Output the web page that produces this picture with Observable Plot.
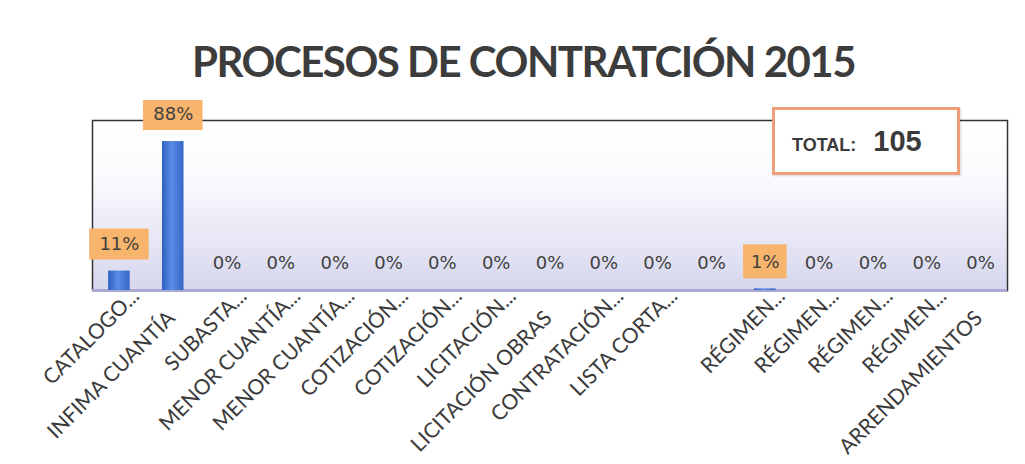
<!DOCTYPE html>
<html><head><meta charset="utf-8">
<script src="https://cdn.jsdelivr.net/npm/d3@7"></script>
<script src="https://cdn.jsdelivr.net/npm/@observablehq/plot@0.6"></script>
<style>
body{margin:0;background:#fff;}
#fig{position:relative;width:1025px;height:464px;overflow:hidden;background:#fff;}
#title{position:absolute;left:11px;top:36px;width:1025px;text-align:center;font-family:Lato,sans-serif;font-weight:bold;font-size:42px;letter-spacing:-1.5px;line-height:50px;color:#3c3c3c;white-space:nowrap;}
#chart{position:absolute;left:0;top:100px;}
#total{position:absolute;left:772px;top:107px;width:188px;height:68px;box-sizing:border-box;border:3px solid #ee9e78;background:#fff;padding-left:17px;line-height:62px;font-family:"Liberation Sans",Arial,sans-serif;font-weight:bold;color:#3a3a3a;white-space:nowrap;box-shadow:1px 1px 2px rgba(0,0,0,0.15);}
#total .t1{font-size:18px;}
#total .t2{font-size:29px;margin-left:17px;}
</style></head><body>
<div id="fig">
  <div id="chart"></div>
  <div id="title">PROCESOS DE CONTRATCIÓN 2015</div>
  <div id="total"><span class="t1">TOTAL:</span><span class="t2">105</span></div>
</div>
<script>
const categories = ["CATALOGO...", "INFIMA CUANTÍA", "SUBASTA...", "MENOR CUANTÍA...", "MENOR CUANTÍA...",
  "COTIZACIÓN...", "COTIZACIÓN...", "LICITACIÓN...", "LICITACIÓN OBRAS", "CONTRATACIÓN...",
  "LISTA CORTA...", "", "RÉGIMEN...", "RÉGIMEN...", "RÉGIMEN...", "RÉGIMEN...", "ARRENDAMIENTOS"];
const counts = [12, 92, 0, 0, 0, 0, 0, 0, 0, 0, 0, 0, 1, 0, 0, 0, 0];
const total = 105;

const data = categories.map((label, i) => ({
  key: i, label, pct: counts[i] / total * 100,
  truncated: label.endsWith("...")
}));
const fmt = d => Math.round(d.pct) + "%";

const defs = () => {
  const g = d3.create("svg:defs");
  const bg = g.append("linearGradient").attr("id", "bg").attr("x1", 0).attr("y1", 0).attr("x2", 0).attr("y2", 1);
  bg.append("stop").attr("offset", "0%").attr("stop-color", "#ffffff");
  bg.append("stop").attr("offset", "35%").attr("stop-color", "#fafafe");
  bg.append("stop").attr("offset", "100%").attr("stop-color", "#d6d6ee");
  const bar = g.append("linearGradient").attr("id", "barGrad").attr("x1", 0).attr("y1", 0).attr("x2", 1).attr("y2", 0);
  bar.append("stop").attr("offset", "0%").attr("stop-color", "#2f5fbf");
  bar.append("stop").attr("offset", "45%").attr("stop-color", "#5a8de6");
  bar.append("stop").attr("offset", "100%").attr("stop-color", "#3466c6");
  return g.node();
};

const chart = Plot.plot({
  width: 1025,
  height: 364,
  marginTop: 20,
  marginBottom: 174,
  marginLeft: 92,
  marginRight: 18,
  x: {type: "band", domain: data.map(d => d.key), paddingInner: 0.6, paddingOuter: 0.3, round: false, axis: null},
  y: {domain: [0, 100], axis: null},
  marks: [
    defs,
    Plot.frame({fill: "url(#bg)"}),
    Plot.frame({stroke: "#333", strokeWidth: 1.5}),
    Plot.ruleY([0], {stroke: "#a9a9d2", strokeWidth: 3}),
    Plot.barY(data, {x: "key", y: "pct", fill: "url(#barGrad)"}),
    Plot.barY(data.filter(d => d.pct >= 10), {x: "key", y1: "pct", y2: "pct", insetTop: -42, insetBottom: 11, insetLeft: -19, insetRight: -19, fill: "#f7b46c"}),
    Plot.barY(data.filter(d => d.pct > 0 && d.pct < 10), {x: "key", y1: "pct", y2: "pct", insetTop: -44, insetBottom: 10, insetLeft: -11, insetRight: -11, fill: "#f7b46c"}),
    Plot.text(data, {x: "key", y: "pct", text: fmt, dy: -27, fontFamily: "DejaVu Sans", fontSize: 18, fill: "#404040"}),
    Plot.text(data.filter(d => d.truncated), {x: "key", frameAnchor: "bottom", text: "label", rotate: -45, textAnchor: "end", dx: 21, dy: 7, fontFamily: "Lato", fontSize: 21, fill: "#3a3a3a"}),
    Plot.text(data.filter(d => !d.truncated && d.label), {x: "key", frameAnchor: "bottom", text: "label", rotate: -45, textAnchor: "end", dx: 3, dy: 29, fontFamily: "Lato", fontSize: 21, fill: "#3a3a3a"})
  ]
});
document.getElementById("chart").appendChild(chart);
</script>
</body></html>
